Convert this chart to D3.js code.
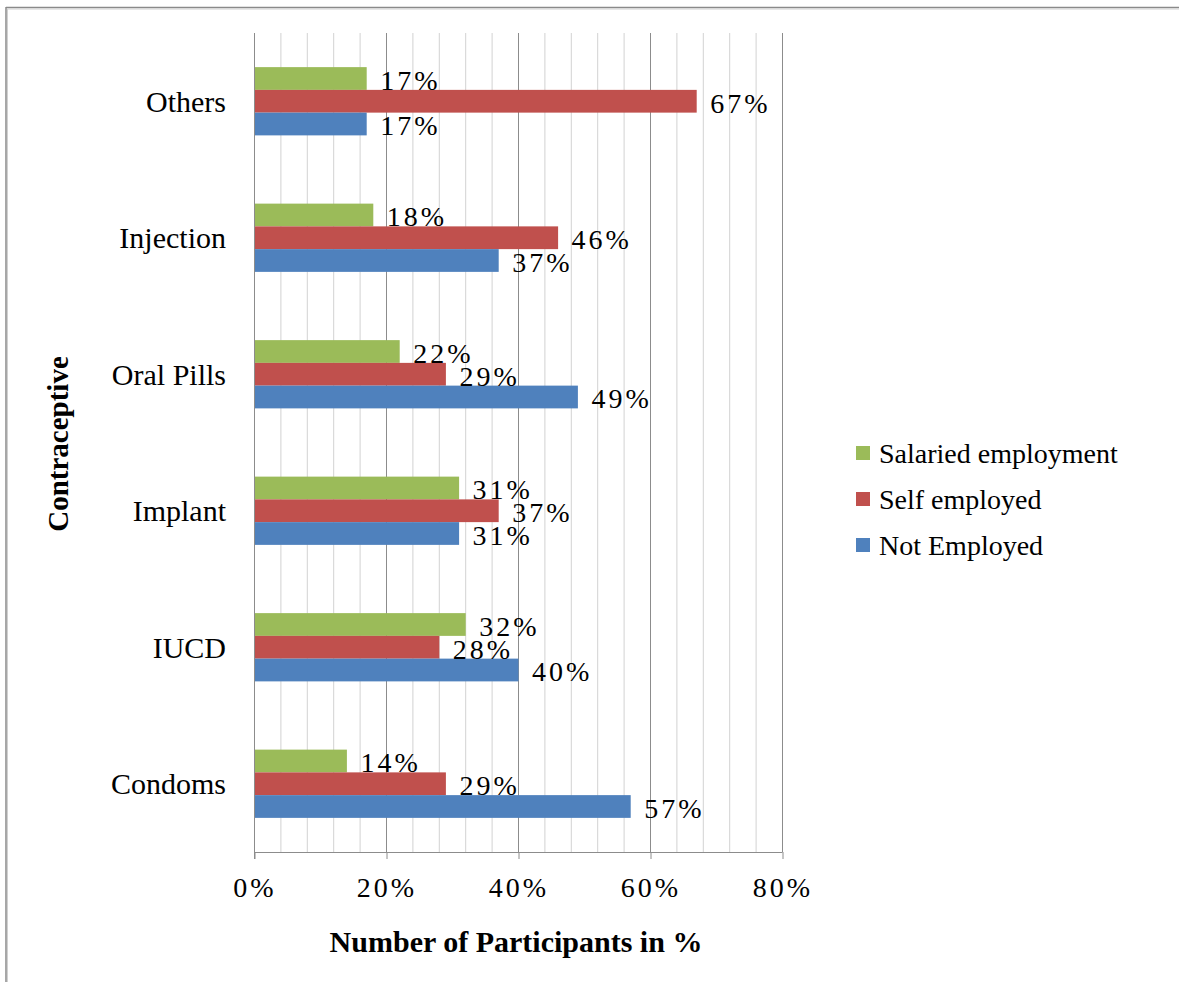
<!DOCTYPE html>
<html>
<head>
<meta charset="utf-8">
<script src="https://cdn.jsdelivr.net/npm/d3@7"></script>
<style>
  html, body { margin: 0; padding: 0; background: #fff; }
  svg { display: block; }
  text { font-family: "Liberation Serif", "Times New Roman", serif; fill: #000; }
</style>
</head>
<body>
<svg id="chart" width="1179" height="982"></svg>
<script>
// Contraceptive methods, listed top to bottom
const categories = ["Others", "Injection", "Oral Pills", "Implant", "IUCD", "Condoms"];
// Employment groups, drawn top to bottom inside each category
const seriesNames = ["Salaried employment", "Self employed", "Not Employed"];
const seriesColors = ["#9BBB59", "#C0504D", "#4F81BD"];
// Percentages per category (same order as categories)
const salaried = [17, 18, 22, 31, 32, 14];
const selfEmployed = [67, 46, 29, 37, 28, 29];
const notEmployed = [17, 37, 49, 31, 40, 57];
const tickValues = [0, 20, 40, 60, 80];
const gridValues = d3.range(0, 81, 4);

const seriesValues = [salaried, selfEmployed, notEmployed];

const svg = d3.select("#chart");

// Outer frame (top and left edges visible)
const frame = svg.append("g");
frame.append("line").attr("x1", 6).attr("x2", 1179).attr("y1", 7.5).attr("y2", 7.5)
  .attr("stroke", "#8a8a8a").attr("stroke-width", 1.5);
frame.append("line").attr("x1", 7).attr("x2", 1179).attr("y1", 9).attr("y2", 9)
  .attr("stroke", "#d0d0d0").attr("stroke-width", 1);
frame.append("line").attr("x1", 6).attr("x2", 6).attr("y1", 7).attr("y2", 982)
  .attr("stroke", "#8a8a8a").attr("stroke-width", 1.5);
frame.append("line").attr("x1", 7.5).attr("x2", 7.5).attr("y1", 9).attr("y2", 982)
  .attr("stroke", "#d0d0d0").attr("stroke-width", 1);

const plot = { left: 254, right: 782, top: 33, bottom: 852 };

const x = d3.scaleLinear().domain([0, 80]).range([plot.left, plot.right]);
const y0 = d3.scaleBand().domain(categories).range([plot.top, plot.bottom])
  .paddingInner(0.5).paddingOuter(0.25);
const y1 = d3.scaleBand().domain(seriesNames).range([0, y0.bandwidth()]);

// Vertical gridlines every 4%, darker at labelled ticks
svg.append("g").selectAll("line").data(gridValues).join("line")
  .attr("x1", d => x(d) + 0.5).attr("x2", d => x(d) + 0.5)
  .attr("y1", plot.top).attr("y2", plot.bottom)
  .attr("stroke", d => d % 20 === 0 ? "#8c8c8c" : "#d2d2d2")
  .attr("stroke-width", 1);

// Bars
const groups = svg.append("g").selectAll("g").data(categories).join("g")
  .attr("transform", c => `translate(0,${y0(c)})`);

groups.selectAll("rect")
  .data((c, i) => seriesNames.map((s, k) => ({ s, k, v: seriesValues[k][i] })))
  .join("rect")
  .attr("x", x(0) + 0.5)
  .attr("y", d => y1(d.s))
  .attr("width", d => x(d.v) - x(0))
  .attr("height", y1.bandwidth())
  .attr("fill", d => seriesColors[d.k]);

// Data labels
groups.selectAll("text.val")
  .data((c, i) => seriesNames.map((s, k) => ({ s, k, v: seriesValues[k][i] })))
  .join("text")
  .attr("class", "val")
  .attr("x", d => x(d.v) + 14)
  .attr("y", d => y1(d.s) + y1.bandwidth())
  .attr("font-size", 28)
  .attr("letter-spacing", 3)
  .text(d => d.v + "%");

// X axis
const xAxis = d3.axisBottom(x).tickValues(tickValues).tickSize(7).tickFormat(d => d + "%");
const gx = svg.append("g").attr("transform", `translate(0.5,${plot.bottom})`).call(xAxis);
gx.select(".domain").attr("stroke", "#8c8c8c").attr("d", `M${plot.left},0.5H${plot.right}`);
gx.selectAll(".tick line").attr("stroke", "#8c8c8c");
gx.selectAll(".tick text")
  .attr("y", 45).attr("dy", 0)
  .attr("font-size", 28).attr("letter-spacing", 3)
  .attr("font-family", "Liberation Serif, Times New Roman, serif")
  .attr("fill", "#000");

// Y axis line and category labels
svg.append("line").attr("x1", plot.left + 0.5).attr("x2", plot.left + 0.5)
  .attr("y1", plot.top).attr("y2", plot.bottom + 7).attr("stroke", "#8c8c8c");

svg.append("g").selectAll("text").data(categories).join("text")
  .attr("x", 226)
  .attr("y", c => y0(c) + y0.bandwidth() / 2)
  .attr("dy", "0.35em")
  .attr("text-anchor", "end")
  .attr("font-size", 30)
  .text(c => c);

// Axis titles
svg.append("text")
  .attr("x", 516).attr("y", 952)
  .attr("text-anchor", "middle")
  .attr("font-size", 30).attr("font-weight", "bold")
  .text("Number of Participants in %");

svg.append("text")
  .attr("transform", "translate(68,444) rotate(-90)")
  .attr("text-anchor", "middle")
  .attr("font-size", 29).attr("font-weight", "bold")
  .text("Contraceptive");

// Legend
const legend = svg.append("g").selectAll("g").data(seriesNames).join("g")
  .attr("transform", (d, i) => `translate(856,${453 + i * 46})`);
legend.append("rect").attr("x", 0).attr("y", -7).attr("width", 14).attr("height", 14)
  .attr("fill", (d, i) => seriesColors[i]);
legend.append("text").attr("x", 23).attr("y", 0).attr("dy", "0.35em")
  .attr("font-size", 28).text(d => d);
</script>
</body>
</html>
